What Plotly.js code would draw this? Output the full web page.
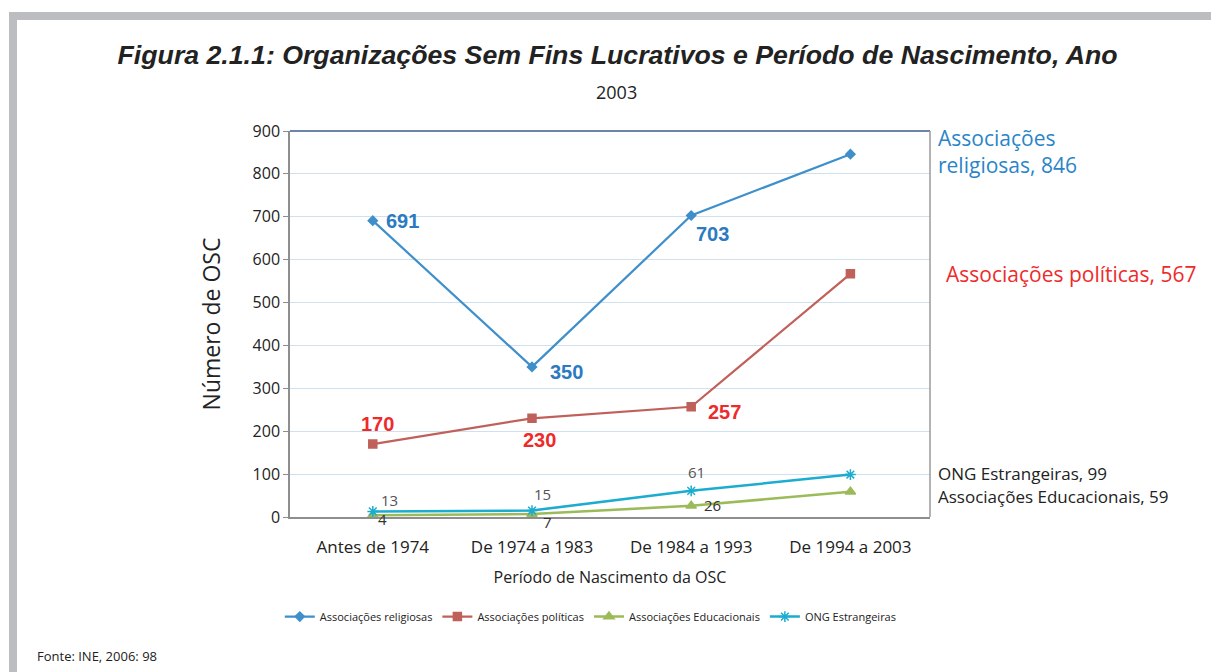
<!DOCTYPE html>
<html><head><meta charset="utf-8">
<script src="https://cdn.plot.ly/plotly-3.0.1.min.js"></script>
<style>
html,body{margin:0;padding:0;background:#fff;}
#wrap{position:relative;width:1211px;height:672px;}
#chart{width:1211px;height:672px;}
#frame{position:absolute;left:9px;top:12px;right:0;bottom:0;border-top:8px solid #bcbdc1;border-left:8px solid #bcbdc1;pointer-events:none;}
</style></head>
<body><div id="wrap"><div id="chart"></div><div id="frame"></div></div>
<script>
const categories = ["Antes de 1974", "De 1974 a 1983", "De 1984 a 1993", "De 1994 a 2003"];
const religiosas = [691, 350, 703, 846];
const politicas = [170, 230, 257, 567];
const educacionais = [4, 7, 26, 59];
const ong = [13, 15, 61, 99];
const seriesNames = ["Associações religiosas", "Associações políticas", "Associações Educacionais", "ONG Estrangeiras"];
const endLabels = ["Associações<br>religiosas, 846", "Associações políticas, 567", "Associações Educacionais, 59", "ONG Estrangeiras, 99"];

const FONT = "Open Sans, Noto Sans, sans-serif";
const colors = {rel:"#3f8fcb", pol:"#c0605a", edu:"#9bbb59", ong:"#1bacd0"};

function tr(y, name, color, symbol, msize, width){
  return {x: categories, y: y, name: name, type: "scatter", mode: "lines+markers",
    line: {color: color, width: width},
    marker: {symbol: symbol, size: msize, color: color, line: {color: color, width: 1.5}}};
}
const data = [
  tr(religiosas, seriesNames[0], colors.rel, "diamond", 7, 2.2),
  tr(politicas, seriesNames[1], colors.pol, "square", 8, 2.2),
  tr(educacionais, seriesNames[2], colors.edu, "triangle-up", 9, 2.5),
  tr(ong, seriesNames[3], colors.ong, "asterisk-open", 9, 2.5)
];

// label offsets (pixels)
const relOff = [[30,0],[35,-5],[21,-19]];
const polOff = [[5,20],[8,-22],[33,-5]];
const ongOff = [[17,11],[11,17],[5,19]];
const eduOff = [[10,-4],[16,-8],[21,1]];

const ann = [];
function labels(vals, offs, font){
  offs.forEach((o,i)=>{
    ann.push({x: categories[i], y: vals[i], xref:"x", yref:"y", text: String(vals[i]),
      showarrow:false, xshift:o[0], yshift:o[1], font: font});
  });
}
labels(religiosas, relOff, {family:"Liberation Sans, Arial, sans-serif", size:20, color:"#2b7bc2", weight:"bold"});
labels(politicas, polOff, {family:"Liberation Sans, Arial, sans-serif", size:20, color:"#ee2a2a", weight:"bold"});
labels(ong, ongOff, {family:FONT, size:15, color:"#555"});
labels(educacionais, eduOff, {family:FONT, size:15, color:"#333"});

const last = categories.length - 1;
ann.push({x: categories[last], y: religiosas[last], xref:"x", yref:"y", text: endLabels[0], showarrow:false,
  xanchor:"left", xshift:86, yshift:3, align:"left", font:{family:FONT, size:21, color:"#2a85c8"}});
ann.push({x: categories[last], y: politicas[last], xref:"x", yref:"y", text: endLabels[1], showarrow:false,
  xanchor:"left", xshift:94, yshift:0, align:"left", font:{family:FONT, size:21, color:"#ee2b2b"}});
ann.push({x: categories[last], y: ong[last], xref:"x", yref:"y", text: endLabels[3], showarrow:false,
  xanchor:"left", xshift:86, yshift:1, align:"left", font:{family:FONT, size:17, color:"#222"}});
ann.push({x: categories[last], y: educacionais[last], xref:"x", yref:"y", text: endLabels[2], showarrow:false,
  xanchor:"left", xshift:86, yshift:-5, align:"left", font:{family:FONT, size:17, color:"#222"}});

ann.push({xref:"paper", yref:"paper", x:-0.398, y:-0.36, xanchor:"left", yanchor:"middle", showarrow:false,
  text:"Fonte: INE, 2006: 98", font:{family:FONT, size:13, color:"#222"}});
ann.push({xref:"paper", yref:"paper", x:0.51, y:1.1, xanchor:"center", yanchor:"middle", showarrow:false,
  text:"2003", font:{family:FONT, size:18, color:"#222"}});

const layout = {
  width:1211, height:672,
  margin:{l:290, r:281, t:131, b:155},
  paper_bgcolor:"rgba(0,0,0,0)", plot_bgcolor:"#fff",
  title:{text:"<i>Figura 2.1.1: Organizações Sem Fins Lucrativos e Período de Nascimento, Ano</i>",
    x:0.51, xanchor:"center", y:0.918, yanchor:"middle",
    font:{family:"Liberation Sans, Arial, sans-serif", size:26.7, color:"#222", weight:"bold"}},
  xaxis:{type:"category", range:[-0.52, 3.5], autorange:false, showgrid:false, showline:true, linecolor:"#8e8e8e", linewidth:2,
    ticks:"", tickangle:0, ticklabelstandoff:14, tickfont:{family:FONT, size:17, color:"#222"},
    title:{text:"Período de Nascimento da OSC", font:{family:FONT, size:16, color:"#222"}, standoff:14},
    mirror:false},
  yaxis:{range:[0,900], autorange:false, dtick:100, showgrid:true, gridcolor:"#cfe0ee", gridwidth:1,
    showline:true, linecolor:"#8e8e8e", linewidth:1.5, ticks:"outside", ticklen:5, tickcolor:"#8e8e8e",
    tickfont:{family:FONT, size:16, color:"#222"}, zeroline:false,
    title:{text:"Número de OSC", font:{family:FONT, size:23, color:"#222"}, standoff:26}},
  showlegend:true,
  legend:{orientation:"h", x:0.47, xanchor:"center", y:-0.258, yanchor:"middle",
    font:{family:FONT, size:11, color:"#222"}, tracegroupgap:0},
  annotations: ann,
  shapes:[
    {type:"line", xref:"paper", yref:"paper", x0:0, x1:1, y0:1, y1:1, line:{color:"#3d5a8a", width:1.5}},
    {type:"line", xref:"paper", yref:"paper", x0:1, x1:1, y0:0, y1:1, line:{color:"#9a9a9a", width:1.5}}
  ]
};
Plotly.newPlot("chart", data, layout, {displayModeBar:false});
</script></body></html>
